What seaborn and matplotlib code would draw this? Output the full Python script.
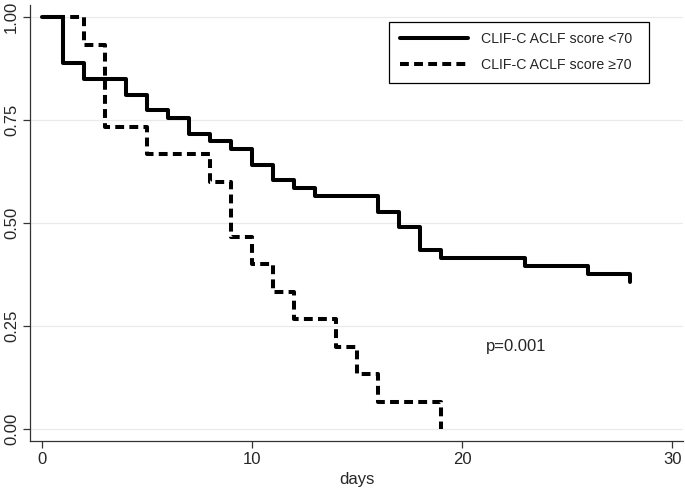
import pandas as pd
import matplotlib
matplotlib.use('Agg')
import matplotlib.pyplot as plt
import seaborn as sns
from matplotlib.lines import Line2D

# Kaplan-Meier steps
days_low = [0, 1, 2, 4, 5, 6, 7, 8, 9, 10, 11, 12, 13, 16, 17, 18, 19, 23, 26, 28]
surv_low = [1.0, 0.887, 0.849, 0.811, 0.774, 0.755, 0.717, 0.698, 0.679, 0.642,
            0.604, 0.585, 0.566, 0.528, 0.491, 0.434, 0.415, 0.396, 0.377, 0.358]
days_high = [0, 2, 3, 5, 8, 9, 10, 11, 12, 14, 15, 16, 19]
surv_high = [1.0, 0.933, 0.733, 0.667, 0.6, 0.467, 0.4, 0.333, 0.267, 0.2, 0.133, 0.067, 0.0]
labels = ['CLIF-C ACLF score <70', 'CLIF-C ACLF score \u226570']
x_ticks = [0, 10, 20, 30]
y_ticks = [0.0, 0.25, 0.5, 0.75, 1.0]
p_text = 'p=0.001'

df = pd.concat([
    pd.DataFrame({'days': days_low, 'surv': surv_low, 'group': labels[0]}),
    pd.DataFrame({'days': days_high, 'surv': surv_high, 'group': labels[1]}),
])

sns.set_style('white')
plt.rcParams['font.family'] = ['Liberation Sans', 'DejaVu Sans']

fig = plt.figure(figsize=(6.85, 4.93), dpi=100)
ax = fig.add_axes([0.044, 0.105, 0.953, 0.885])

for y in y_ticks:
    ax.axhline(y, color='#eaeaea', lw=0.9, zorder=0)

sns.lineplot(data=df, x='days', y='surv', style='group', ax=ax,
             estimator=None, drawstyle='steps-post', color='black', lw=2.9,
             dashes={labels[0]: '', labels[1]: (2.2, 1.3)}, legend=False)

ax.set_xlim(-0.57, 30.5)
ax.set_ylim(-0.029, 1.029)
ax.set_xticks(x_ticks)
ax.set_yticks(y_ticks)
ax.set_yticklabels(['%.2f' % v for v in y_ticks], rotation=90, va='center')
ax.tick_params(axis='both', direction='out', length=5, width=0.9, color='#333333',
               labelsize=12, bottom=True, left=True, pad=3)
ax.set_xlabel('days', fontsize=12, labelpad=3)
ax.set_ylabel('')
for s in ['top', 'right']:
    ax.spines[s].set_visible(False)
for s in ['left', 'bottom']:
    ax.spines[s].set_color('#333333')
    ax.spines[s].set_linewidth(0.9)

ax.text(21.1, 0.2, p_text, fontsize=12, va='center', ha='left')

handles = [Line2D([], [], color='black', lw=2.9),
           Line2D([], [], color='black', lw=2.9, dashes=(2.2, 1.3))]
leg = ax.legend(handles, labels, loc='upper left', bbox_to_anchor=(0.55, 0.8615, 0.398, 0.1),
                mode='expand', borderaxespad=0,
                fontsize=10.2, handlelength=4.8, handletextpad=0.9, borderpad=0.75,
                labelspacing=0.85, fancybox=False, framealpha=1, edgecolor='black')
leg.get_frame().set_linewidth(0.9)

fig.savefig('out.png', dpi=100)
